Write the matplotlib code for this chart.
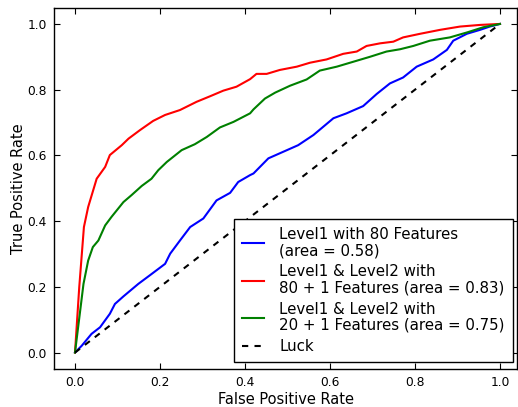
import numpy as np
import matplotlib
matplotlib.use("Agg")
import matplotlib.pyplot as plt

# ROC points (fpr, tpr)
fpr_l1 = [0.0, 0.016, 0.039, 0.059, 0.082, 0.094, 0.114, 0.149, 0.176, 0.212, 0.224,
          0.247, 0.271, 0.302, 0.333, 0.365, 0.384, 0.412, 0.420, 0.455, 0.490, 0.525,
          0.561, 0.608, 0.639, 0.678, 0.710, 0.741, 0.772, 0.804, 0.843, 0.875, 0.890,
          0.922, 0.953, 0.976, 1.0]
tpr_l1 = [0.0, 0.021, 0.057, 0.077, 0.118, 0.148, 0.171, 0.209, 0.235, 0.270, 0.301,
          0.341, 0.382, 0.408, 0.463, 0.486, 0.519, 0.540, 0.545, 0.591, 0.611, 0.631,
          0.662, 0.713, 0.728, 0.750, 0.787, 0.819, 0.837, 0.870, 0.892, 0.921, 0.949,
          0.970, 0.982, 0.992, 1.0]

fpr_l12_80 = [0.0, 0.010, 0.021, 0.031, 0.051, 0.071, 0.082, 0.110, 0.126, 0.153, 0.184,
              0.212, 0.247, 0.286, 0.318, 0.349, 0.380, 0.412, 0.427, 0.451, 0.482, 0.522,
              0.553, 0.592, 0.631, 0.663, 0.686, 0.718, 0.749, 0.772, 0.812, 0.859, 0.906,
              0.953, 1.0]
tpr_l12_80 = [0.0, 0.199, 0.382, 0.443, 0.529, 0.565, 0.601, 0.631, 0.651, 0.677, 0.705,
              0.723, 0.738, 0.763, 0.780, 0.797, 0.809, 0.832, 0.848, 0.848, 0.860, 0.870,
              0.882, 0.892, 0.909, 0.916, 0.933, 0.941, 0.946, 0.959, 0.970, 0.982, 0.992,
              0.997, 1.0]

fpr_l12_20 = [0.0, 0.020, 0.031, 0.042, 0.055, 0.071, 0.086, 0.114, 0.133, 0.157, 0.180,
              0.196, 0.216, 0.251, 0.282, 0.310, 0.341, 0.373, 0.412, 0.420, 0.447, 0.471,
              0.506, 0.545, 0.576, 0.616, 0.655, 0.694, 0.733, 0.765, 0.796, 0.835, 0.882,
              0.922, 0.961, 1.0]
tpr_l12_20 = [0.0, 0.209, 0.280, 0.321, 0.341, 0.387, 0.413, 0.458, 0.479, 0.507, 0.529,
              0.555, 0.580, 0.616, 0.634, 0.656, 0.685, 0.702, 0.728, 0.740, 0.773, 0.791,
              0.812, 0.831, 0.858, 0.870, 0.885, 0.900, 0.916, 0.923, 0.933, 0.949, 0.959,
              0.974, 0.990, 1.0]

labels = ["Level1 with 80 Features\n(area = 0.58)",
          "Level1 & Level2 with\n80 + 1 Features (area = 0.83)",
          "Level1 & Level2 with\n20 + 1 Features (area = 0.75)",
          "Luck"]
ticks = [0.0, 0.2, 0.4, 0.6, 0.8, 1.0]

fig = plt.figure(figsize=(5.18, 4.07), dpi=100)
ax = fig.add_axes([54 / 518, 38 / 407, 463 / 518, 361.5 / 407])

ax.plot(fpr_l1, tpr_l1, color='b', lw=1.5, label=labels[0])
ax.plot(fpr_l12_80, tpr_l12_80, color='r', lw=1.5, label=labels[1])
ax.plot(fpr_l12_20, tpr_l12_20, color='g', lw=1.5, label=labels[2])
ax.plot([0, 1], [0, 1], color='k', ls='--', dashes=(3, 3), lw=1.5, label=labels[3])

ax.set_xlim(-0.0494, 1.04)
ax.set_ylim(-0.05, 1.05)
ax.set_xticks(ticks)
ax.set_yticks(ticks)
ax.tick_params(direction='in', top=True, right=True, length=4, labelsize=8.8, pad=5)
for s in ax.spines.values():
    s.set_linewidth(1.0)
ax.set_xlabel("False Positive Rate", fontsize=10.5, labelpad=2)
ax.set_ylabel("True Positive Rate", fontsize=10.5, labelpad=1)

leg = ax.legend(loc='lower right', bbox_to_anchor=((513 - 54) / 463, 7 / 361.5),
                borderaxespad=0, fontsize=10.8, fancybox=False, framealpha=1,
                edgecolor='black', handlelength=1.5, handletextpad=1.0,
                labelspacing=0.4, borderpad=0.55)
leg.get_frame().set_linewidth(1.0)
for t in leg.get_texts():
    t.set_linespacing(1.1)

fig.savefig("out.png", dpi=100)
